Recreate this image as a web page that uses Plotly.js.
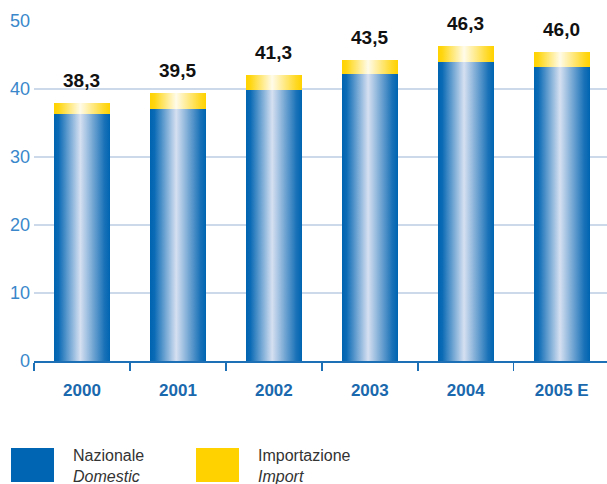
<!DOCTYPE html>
<html>
<head>
<meta charset="utf-8">
<script src="https://cdn.plot.ly/plotly-3.0.1.min.js"></script>
<style>
html,body{margin:0;padding:0;background:#fff;}
#chart{width:607px;height:484px;}
</style>
</head>
<body>
<div id="chart"></div>
<script>
// ---- data ----
const categories = ['2000', '2001', '2002', '2003', '2004', '2005 E'];
const domestic = [36.3, 37.1, 39.9, 42.2, 43.9, 43.3];
const imports = [1.7, 2.3, 2.1, 2.0, 2.4, 2.2];
const totalLabels = ['38,3', '39,5', '41,3', '43,5', '46,3', '46,0'];
const yTicks = [0, 10, 20, 30, 40, 50];
const legendNames = ['Nazionale', 'Importazione'];
const legendSub = ['Domestic', 'Import'];

// ---- layout constants ----
const W = 607, H = 484;
const M = {l: 34, r: 0, t: 21, b: 123};
const PW = W - M.l - M.r, PH = H - M.t - M.b;
const px2x = p => (p - M.l) / PW;
const px2y = p => (H - M.b - p) / PH;

const blue = '#0066b3';
const yellow = '#ffd200';
const axisBlue = '#1d6fb6';
const font = 'Liberation Sans, Arial, Helvetica, sans-serif';

const traces = [
  {type: 'bar', x: categories, y: domestic, name: legendNames[0],
   marker: {color: blue, line: {width: 0}}, hoverinfo: 'skip'},
  {type: 'bar', x: categories, y: imports, name: legendNames[1],
   marker: {color: yellow, line: {width: 0}}, hoverinfo: 'skip'}
];

const totals = domestic.map((d, i) => d + imports[i]);
const annotations = categories.map((c, i) => ({
  x: i, y: totals[i], xref: 'x', yref: 'y', text: totalLabels[i],
  showarrow: false, yanchor: 'bottom', yshift: 10,
  font: {family: font, size: 19, color: '#111', weight: 'bold'}
}));

const shapes = [];
const legX = [11, 196];
[blue, yellow].forEach((col, i) => {
  shapes.push({type: 'rect', xref: 'paper', yref: 'paper',
    x0: px2x(legX[i]), x1: px2x(legX[i] + 43), y0: px2y(448), y1: px2y(482),
    fillcolor: col, line: {width: 0}, layer: 'above'});
  annotations.push({xref: 'paper', yref: 'paper', x: px2x(legX[i] + 60), y: px2y(445),
    xanchor: 'left', yanchor: 'top', align: 'left', showarrow: false,
    text: legendNames[i] + '<br><i>' + legendSub[i] + '</i>',
    font: {family: font, size: 16, color: '#333'}});
});

const layout = {
  width: W, height: H,
  margin: M,
  paper_bgcolor: '#fff', plot_bgcolor: '#fff',
  barmode: 'stack', bargap: 0.416,
  showlegend: false,
  xaxis: {
    type: 'category', range: [-0.5, 5.472], fixedrange: true,
    showline: true, linecolor: axisBlue, linewidth: 1.5,
    ticks: 'outside', tickson: 'boundaries', ticklen: 8, tickwidth: 1.5, tickcolor: axisBlue,
    tickfont: {family: font, size: 17, color: '#1a68ad', weight: 'bold'},
    ticklabelstandoff: 13,
    showgrid: false, zeroline: false
  },
  yaxis: {
    range: [0, 50], tickvals: yTicks, ticktext: yTicks.map(String), fixedrange: true,
    showgrid: true, gridcolor: '#ccd9ea', gridwidth: 1.5,
    zeroline: false, showline: false, ticks: '',
    ticklabelstandoff: 3,
    tickfont: {family: font, size: 18, color: '#3a88cb'}
  },
  shapes: shapes,
  annotations: annotations
};

Plotly.newPlot('chart', traces, layout, {staticPlot: true, displayModeBar: false}).then(gd => {
  const svg = gd.querySelector('svg.main-svg');
  const NS = 'http://www.w3.org/2000/svg';
  let defs = svg.querySelector('defs');
  if (!defs) { defs = document.createElementNS(NS, 'defs'); svg.insertBefore(defs, svg.firstChild); }
  function grad(id, stops) {
    const g = document.createElementNS(NS, 'linearGradient');
    g.setAttribute('id', id);
    g.setAttribute('x1', '0'); g.setAttribute('x2', '1');
    g.setAttribute('y1', '0'); g.setAttribute('y2', '0');
    stops.forEach(([o, c]) => {
      const s = document.createElementNS(NS, 'stop');
      s.setAttribute('offset', o); s.setAttribute('stop-color', c);
      g.appendChild(s);
    });
    defs.appendChild(g);
  }
  grad('gBlue', [['0', '#0064b1'], ['0.08', '#0a6ab5'], ['0.47', '#d6e0f1'], ['0.9', '#1a72b8'], ['1', '#0064b1']]);
  grad('gYellow', [['0', '#ffd200'], ['0.08', '#ffd60f'], ['0.47', '#fffbe9'], ['0.9', '#ffd822'], ['1', '#ffd200']]);
  const tr = gd.querySelectorAll('.barlayer .trace');
  const ids = ['gBlue', 'gYellow'];
  tr.forEach((t, i) => {
    t.querySelectorAll('path').forEach(p => { p.style.fill = 'url(#' + ids[i] + ')'; });
  });
});
</script>
</body>
</html>
